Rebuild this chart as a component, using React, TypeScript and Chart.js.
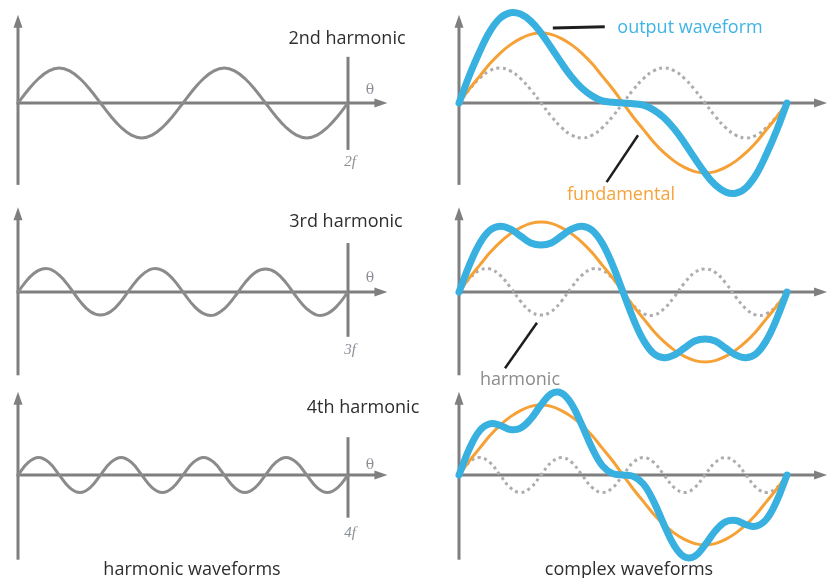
import React, { useEffect, useRef } from "react";
import { Chart, registerables } from "chart.js";

Chart.register(...registerables);

// ---------- data (fundamental amplitude = 1) ----------
const angles = [
  0, 11.25, 22.5, 33.75, 45, 56.25, 67.5, 78.75, 90, 101.25, 112.5, 123.75, 135, 146.25, 157.5, 168.75,
  180, 191.25, 202.5, 213.75, 225, 236.25, 247.5, 258.75, 270, 281.25, 292.5, 303.75, 315, 326.25, 337.5, 348.75, 360,
];
const fundamental = [
  0, 0.2, 0.38, 0.56, 0.71, 0.83, 0.92, 0.98, 1, 0.98, 0.92, 0.83, 0.71, 0.56, 0.38, 0.2,
  0, -0.2, -0.38, -0.56, -0.71, -0.83, -0.92, -0.98, -1, -0.98, -0.92, -0.83, -0.71, -0.56, -0.38, -0.2, 0,
];
const harmonic2 = [
  0, 0.19, 0.35, 0.46, 0.5, 0.46, 0.35, 0.19, 0, -0.19, -0.35, -0.46, -0.5, -0.46, -0.35, -0.19,
  0, 0.19, 0.35, 0.46, 0.5, 0.46, 0.35, 0.19, 0, -0.19, -0.35, -0.46, -0.5, -0.46, -0.35, -0.19, 0,
];
const output2 = [
  0, 0.39, 0.73, 1.02, 1.21, 1.29, 1.27, 1.17, 1, 0.79, 0.57, 0.37, 0.21, 0.1, 0.03, 0.01,
  0, -0.01, -0.03, -0.1, -0.21, -0.37, -0.57, -0.79, -1, -1.17, -1.27, -1.29, -1.21, -1.02, -0.73, -0.39, 0,
];
const harmonic3 = [
  0, 0.19, 0.31, 0.33, 0.24, 0.07, -0.13, -0.28, -0.33, -0.28, -0.13, 0.07, 0.24, 0.33, 0.31, 0.19,
  0, -0.19, -0.31, -0.33, -0.24, -0.07, 0.13, 0.28, 0.33, 0.28, 0.13, -0.07, -0.24, -0.33, -0.31, -0.19, 0,
];
const output3 = [
  0, 0.38, 0.69, 0.88, 0.94, 0.9, 0.8, 0.7, 0.67, 0.7, 0.8, 0.9, 0.94, 0.88, 0.69, 0.38,
  0, -0.38, -0.69, -0.88, -0.94, -0.9, -0.8, -0.7, -0.67, -0.7, -0.8, -0.9, -0.94, -0.88, -0.69, -0.38, 0,
];
const harmonic4 = [
  0, 0.18, 0.25, 0.18, 0, -0.18, -0.25, -0.18, 0, 0.18, 0.25, 0.18, 0, -0.18, -0.25, -0.18,
  0, 0.18, 0.25, 0.18, 0, -0.18, -0.25, -0.18, 0, 0.18, 0.25, 0.18, 0, -0.18, -0.25, -0.18, 0,
];
const output4 = [
  0, 0.37, 0.63, 0.73, 0.71, 0.65, 0.67, 0.8, 1, 1.16, 1.17, 1.01, 0.71, 0.38, 0.13, 0.02,
  0, -0.02, -0.13, -0.38, -0.71, -1.01, -1.17, -1.16, -1, -0.8, -0.67, -0.65, -0.71, -0.73, -0.63, -0.37, 0,
];
const rowNames = ["2nd harmonic", "3rd harmonic", "4th harmonic"];
const orderLabels = ["2", "3", "4"];

// ---------- styling / layout ----------
const AXIS = "#7f7f7f";
const WAVE_GRAY = "#8b8b8b";
const DOT_GRAY = "#adadad";
const ORANGE = "#f6a136";
const BLUE = "#38b0e0";
const TEXT = "#2e2e2e";
const PX_PER_UNIT = 70;
const CANVAS_H = 190;
const Y_RANGE = CANVAS_H / 2 / PX_PER_UNIT;
const FONT = "'Open Sans', 'Noto Sans', sans-serif";

const rows = [
  { axisY: 103, harmonic: harmonic2, output: output2, vAxis: [1.26, -1.17], marker: [0.66, -0.67], nameX: 347, nameY: 37, thetaY: 89, fY: 161 },
  { axisY: 292, harmonic: harmonic3, output: output3, vAxis: [1.21, -1.19], marker: [0.7, -0.64], nameX: 346, nameY: 220, thetaY: 277, fY: 349 },
  { axisY: 475, harmonic: harmonic4, output: output4, vAxis: [1.19, -1.21], marker: [0.54, -0.61], nameX: 363, nameY: 406, thetaY: 464, fY: 532 },
];

type Pointer = { from: [number, number]; to: [number, number]; width: number };
type Deco = { vAxis: number[]; xTip: number; marker?: number[]; pointers?: Pointer[] };

function makeDecoPlugin(deco: Deco) {
  return {
    id: "waveDeco",
    beforeDatasetsDraw(chart: any) {
      const { ctx } = chart;
      const x = chart.scales.x;
      const y = chart.scales.y;
      const x0 = x.getPixelForValue(0);
      const y0 = y.getPixelForValue(0);
      const xt = x.getPixelForValue(deco.xTip);
      const yt = y.getPixelForValue(deco.vAxis[0]);
      const yb = y.getPixelForValue(deco.vAxis[1]);
      const head = 13;
      const half = 4.5;
      ctx.save();
      ctx.strokeStyle = AXIS;
      ctx.fillStyle = AXIS;
      ctx.lineWidth = 3;
      ctx.lineCap = "butt";
      // horizontal axis
      ctx.beginPath();
      ctx.moveTo(x0 - 1.5, y0);
      ctx.lineTo(xt - head + 1, y0);
      ctx.stroke();
      ctx.beginPath();
      ctx.moveTo(xt, y0);
      ctx.lineTo(xt - head, y0 - half);
      ctx.lineTo(xt - head, y0 + half);
      ctx.closePath();
      ctx.fill();
      // vertical axis
      ctx.beginPath();
      ctx.moveTo(x0, yb);
      ctx.lineTo(x0, yt + head - 1);
      ctx.stroke();
      ctx.beginPath();
      ctx.moveTo(x0, yt);
      ctx.lineTo(x0 - half, yt + head);
      ctx.lineTo(x0 + half, yt + head);
      ctx.closePath();
      ctx.fill();
      // period marker
      if (deco.marker) {
        const xm = x.getPixelForValue(360);
        ctx.beginPath();
        ctx.moveTo(xm, y.getPixelForValue(deco.marker[0]));
        ctx.lineTo(xm, y.getPixelForValue(deco.marker[1]));
        ctx.stroke();
      }
      ctx.restore();
    },
    afterDatasetsDraw(chart: any) {
      if (!deco.pointers) return;
      const { ctx } = chart;
      const x = chart.scales.x;
      const y = chart.scales.y;
      ctx.save();
      ctx.strokeStyle = "#1e1e1e";
      ctx.lineCap = "butt";
      deco.pointers.forEach((p) => {
        ctx.lineWidth = p.width;
        ctx.beginPath();
        ctx.moveTo(x.getPixelForValue(p.from[0]), y.getPixelForValue(p.from[1]));
        ctx.lineTo(x.getPixelForValue(p.to[0]), y.getPixelForValue(p.to[1]));
        ctx.stroke();
      });
      ctx.restore();
    },
  };
}

const toXY = (vals: number[]) => vals.map((v, i) => ({ x: angles[i], y: v }));

function Panel(props: { left: number; top: number; width: number; padL: number; padR: number; datasets: any[]; deco: Deco }) {
  const ref = useRef<HTMLCanvasElement>(null);
  useEffect(() => {
    const chart = new Chart(ref.current as HTMLCanvasElement, {
      type: "line",
      data: { datasets: props.datasets },
      options: {
        animation: false,
        responsive: false,
        events: [],
        layout: { padding: { left: props.padL, right: props.padR, top: 0, bottom: 0 } },
        scales: {
          x: { type: "linear", min: 0, max: 360, display: false },
          y: { type: "linear", min: -Y_RANGE, max: Y_RANGE, display: false },
        },
        elements: { point: { radius: 0 }, line: { tension: 0.4 } },
        plugins: { legend: { display: false }, tooltip: { enabled: false } },
      } as any,
      plugins: [makeDecoPlugin(props.deco) as any],
    });
    return () => chart.destroy();
  }, []);
  return (
    <canvas
      ref={ref}
      width={props.width}
      height={CANVAS_H}
      style={{ position: "absolute", left: props.left, top: props.top, width: props.width, height: CANVAS_H }}
    />
  );
}

const label = (text: React.ReactNode, cx: number, cy: number, style: React.CSSProperties, key: string) => (
  <div
    key={key}
    style={{
      position: "absolute",
      left: cx,
      top: cy,
      transform: "translate(-50%, -50%)",
      whiteSpace: "nowrap",
      lineHeight: 1,
      ...style,
    }}
  >
    {text}
  </div>
);

export default function App() {
  const labelStyle: React.CSSProperties = { fontFamily: FONT, fontSize: 18, color: TEXT };
  const thetaStyle: React.CSSProperties = { fontFamily: "'DejaVu Serif', 'Liberation Serif', serif", fontSize: 14, color: "#8a8f96" };
  const fStyle: React.CSSProperties = { fontFamily: "'Liberation Serif', serif", fontSize: 15, color: "#8a8f96", fontStyle: "italic" };

  return (
    <div style={{ position: "absolute", left: 0, top: 0, width: 832, height: 578, background: "#ffffff", overflow: "hidden" }}>
      {rows.map((r, i) => {
        const top = r.axisY - CANVAS_H / 2;
        const pointers: Pointer[] = [];
        if (i === 0) {
          pointers.push({ from: [103, 1.07], to: [160, 1.09], width: 3 });
          pointers.push({ from: [162, -1.13], to: [196.5, -0.46], width: 2.5 });
        }
        if (i === 1) {
          pointers.push({ from: [50.5, -1.09], to: [85.6, -0.44], width: 2.5 });
        }
        return (
          <React.Fragment key={i}>
            <Panel
              left={0}
              top={top}
              width={420}
              padL={18}
              padR={72}
              deco={{ vAxis: r.vAxis, xTip: 403, marker: r.marker }}
              datasets={[
                { data: toXY(r.harmonic), borderColor: WAVE_GRAY, borderWidth: 3, clip: false },
              ]}
            />
            <Panel
              left={420}
              top={top}
              width={412}
              padL={39}
              padR={45}
              deco={{ vAxis: r.vAxis, xTip: 404, pointers }}
              datasets={[
                { data: toXY(r.output), borderColor: BLUE, borderWidth: 7, borderCapStyle: "round", borderJoinStyle: "round", clip: false },
                { data: toXY(fundamental), borderColor: ORANGE, borderWidth: 3, borderCapStyle: "round", clip: false },
                { data: toXY(r.harmonic), borderColor: DOT_GRAY, borderWidth: 3, borderDash: [3, 3.5], clip: false },
              ]}
            />
            {label(rowNames[i], r.nameX, r.nameY, labelStyle, "n" + i)}
            {label("θ", 370, r.thetaY, thetaStyle, "t" + i)}
            {label(orderLabels[i] + "f", 350, r.fY, fStyle, "f" + i)}
          </React.Fragment>
        );
      })}
      {label("output waveform", 690, 26, { ...labelStyle, color: "#3db4e6" }, "lo")}
      {label("fundamental", 621, 193, { ...labelStyle, color: "#f7a33c" }, "lf")}
      {label("harmonic", 520, 378, { ...labelStyle, color: "#8c8c8c" }, "lh")}
      {label("harmonic waveforms", 192, 568, labelStyle, "lb1")}
      {label("complex waveforms", 629, 568, labelStyle, "lb2")}
    </div>
  );
}
